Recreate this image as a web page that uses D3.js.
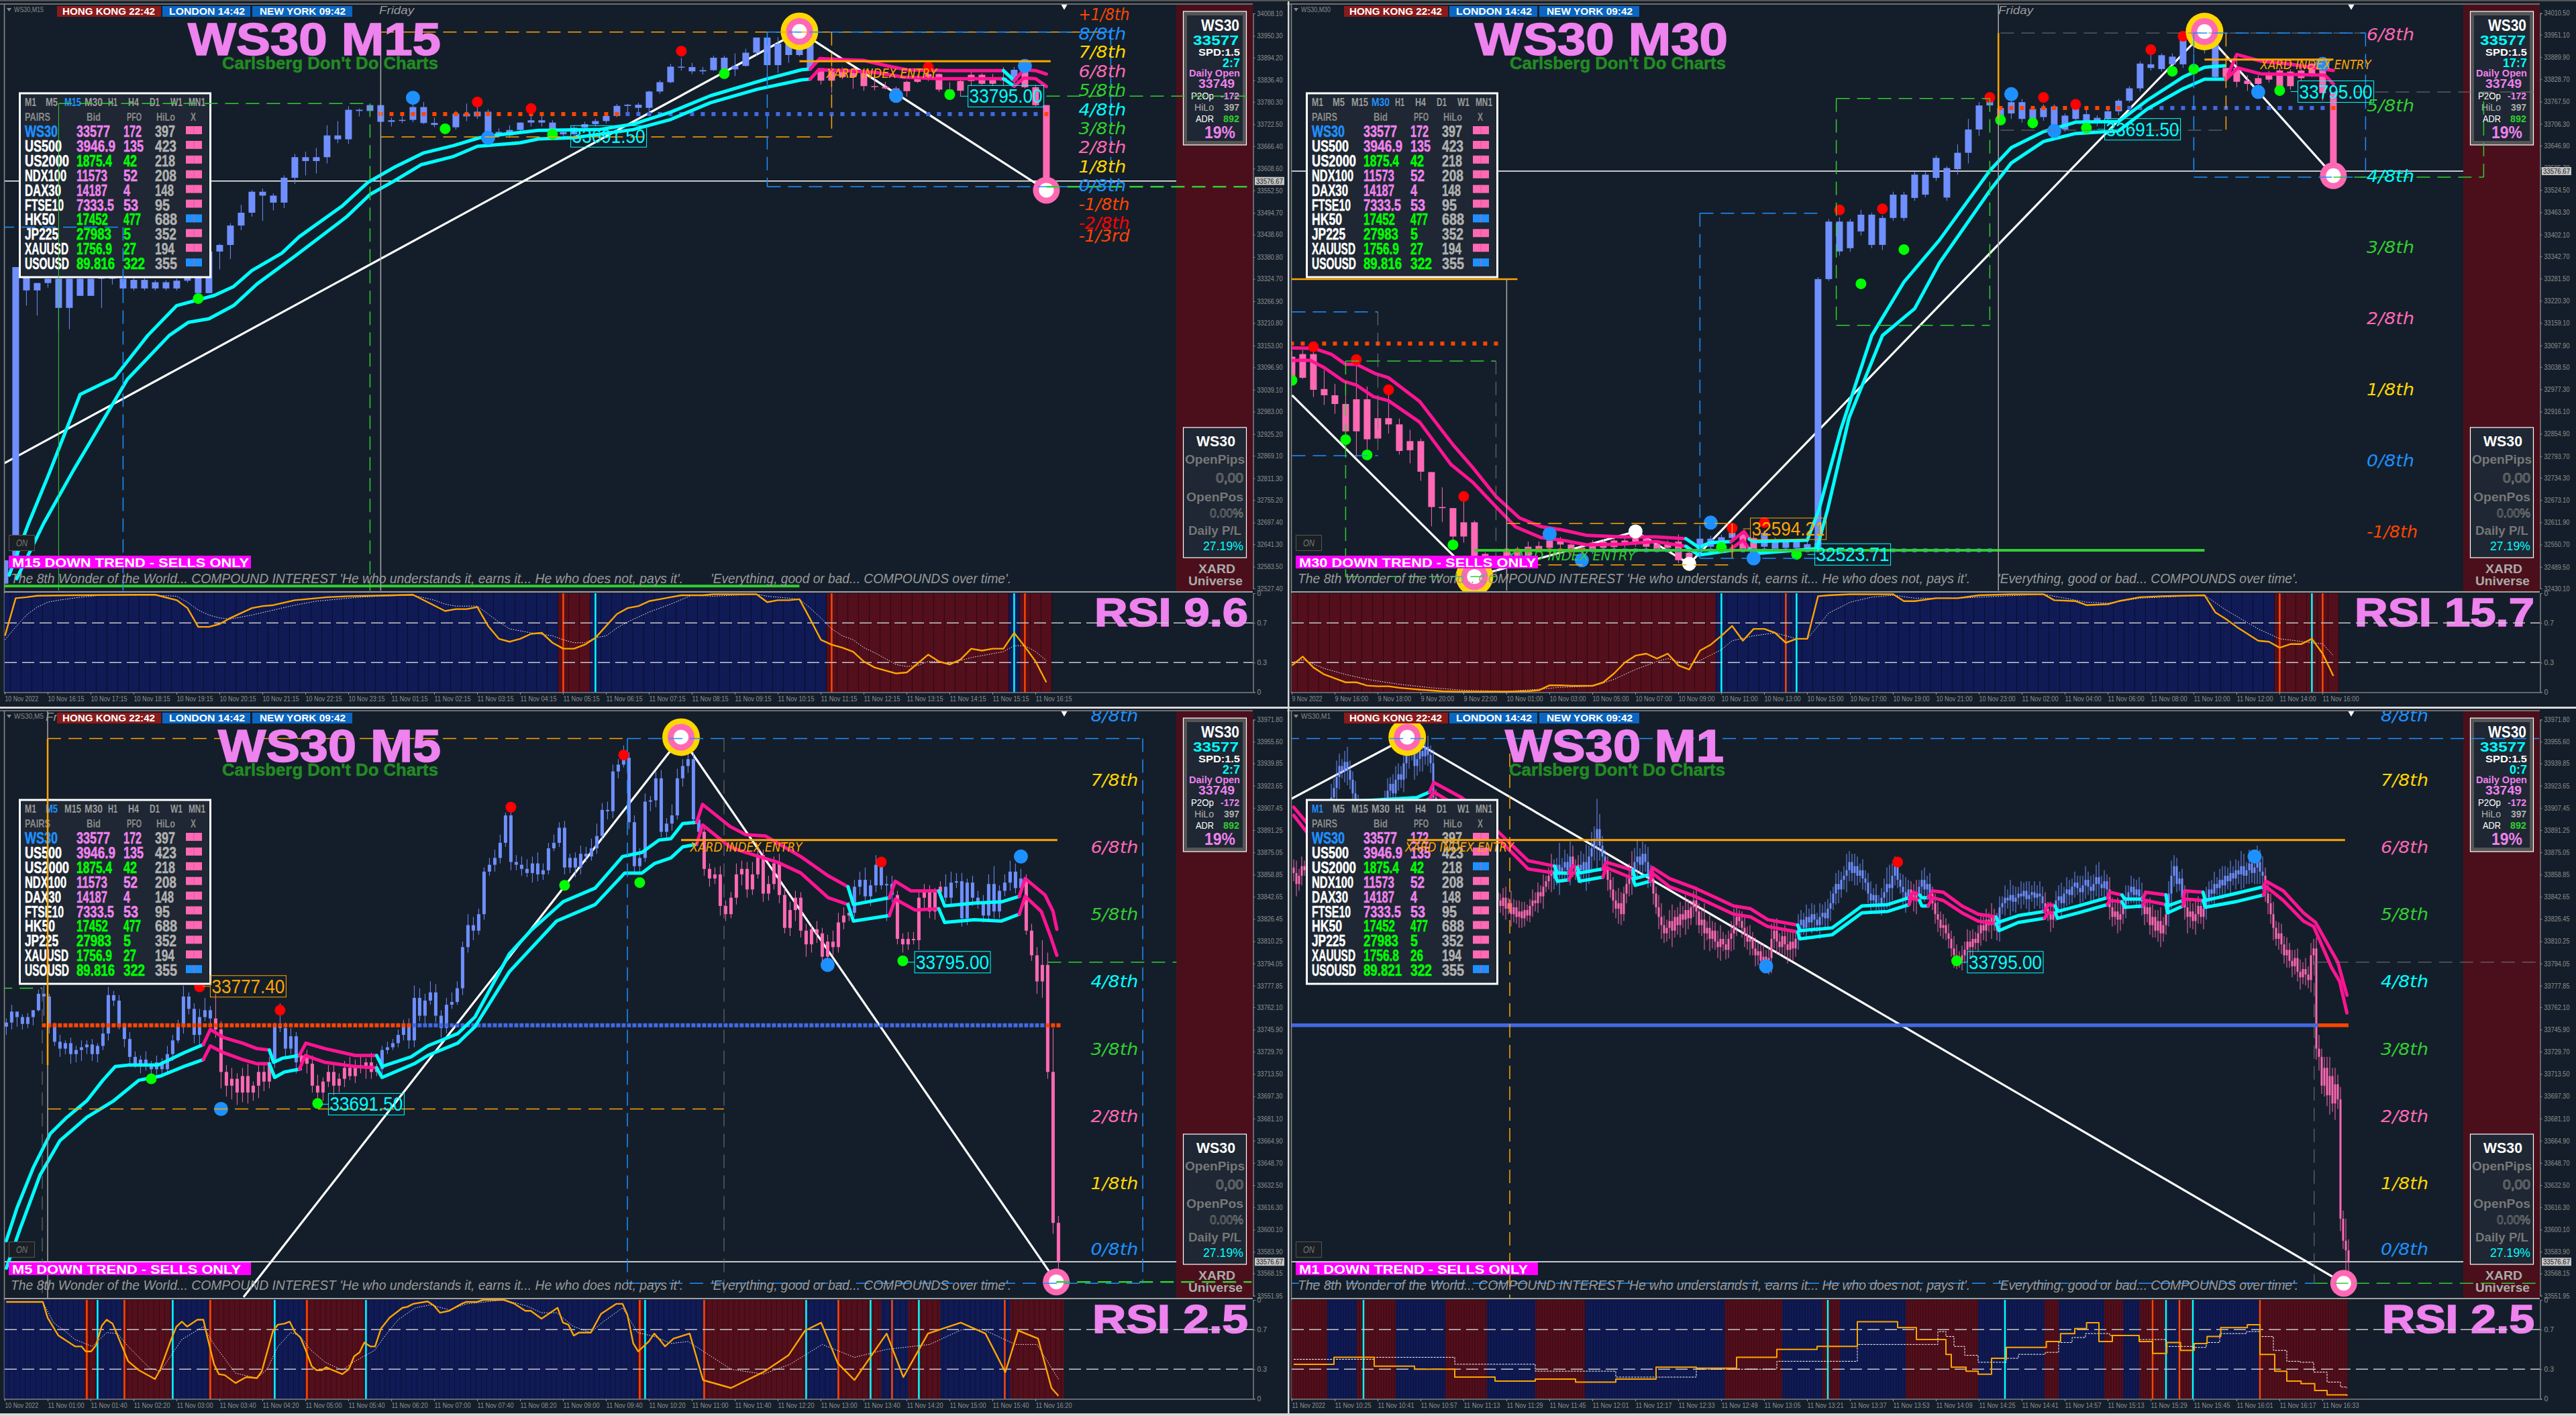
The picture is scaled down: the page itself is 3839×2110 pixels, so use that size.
<!DOCTYPE html>
<html><head><meta charset="utf-8">
<style>html,body{margin:0;padding:0;background:#141e2a}svg{display:block}text{font-family:"Liberation Sans",Arial,sans-serif}</style>
<script src="https://cdn.jsdelivr.net/npm/d3@7/dist/d3.min.js"></script></head><body><script>
// ---------- price axis tick labels
const ticksM15=[34008.10,33950.30,33894.20,33836.40,33780.30,33722.50,33666.40,33608.60,33552.50,33494.70,33438.60,33380.80,33324.70,33266.90,33210.80,33153.00,33096.90,33039.10,32983.00,32925.20,32869.10,32811.30,32755.20,32697.40,32641.30,32583.50,32527.40];
const ticksM30=[34010.50,33951.10,33889.90,33828.70,33767.50,33706.30,33646.90,33585.70,33524.50,33463.30,33402.10,33342.70,33281.50,33220.30,33159.10,33097.90,33038.50,32977.30,32916.10,32854.90,32793.70,32734.30,32673.10,32611.90,32550.70,32489.50,32430.10];
const ticksLow=[33971.80,33955.60,33939.85,33923.65,33907.45,33891.25,33875.05,33858.85,33842.65,33826.45,33810.25,33794.05,33777.85,33762.10,33745.90,33729.70,33713.50,33697.30,33681.10,33664.90,33648.70,33632.50,33616.30,33600.10,33583.90,33568.15,33551.95];
// ---------- time axis labels
const timeM15=["10 Nov 2022","10 Nov 16:15","10 Nov 17:15","10 Nov 18:15","10 Nov 19:15","10 Nov 20:15","10 Nov 21:15","10 Nov 22:15","10 Nov 23:15","11 Nov 01:15","11 Nov 02:15","11 Nov 03:15","11 Nov 04:15","11 Nov 05:15","11 Nov 06:15","11 Nov 07:15","11 Nov 08:15","11 Nov 09:15","11 Nov 10:15","11 Nov 11:15","11 Nov 12:15","11 Nov 13:15","11 Nov 14:15","11 Nov 15:15","11 Nov 16:15"];
const timeM30=["9 Nov 2022","9 Nov 16:00","9 Nov 18:00","9 Nov 20:00","9 Nov 22:00","10 Nov 01:00","10 Nov 03:00","10 Nov 05:00","10 Nov 07:00","10 Nov 09:00","10 Nov 11:00","10 Nov 13:00","10 Nov 15:00","10 Nov 17:00","10 Nov 19:00","10 Nov 21:00","10 Nov 23:00","11 Nov 02:00","11 Nov 04:00","11 Nov 06:00","11 Nov 08:00","11 Nov 10:00","11 Nov 12:00","11 Nov 14:00","11 Nov 16:00"];
const timeM5=["10 Nov 2022","11 Nov 01:00","11 Nov 01:40","11 Nov 02:20","11 Nov 03:00","11 Nov 03:40","11 Nov 04:20","11 Nov 05:00","11 Nov 05:40","11 Nov 06:20","11 Nov 07:00","11 Nov 07:40","11 Nov 08:20","11 Nov 09:00","11 Nov 09:40","11 Nov 10:20","11 Nov 11:00","11 Nov 11:40","11 Nov 12:20","11 Nov 13:00","11 Nov 13:40","11 Nov 14:20","11 Nov 15:00","11 Nov 15:40","11 Nov 16:20"];
const timeM1=["11 Nov 2022","11 Nov 10:25","11 Nov 10:41","11 Nov 10:57","11 Nov 11:13","11 Nov 11:29","11 Nov 11:45","11 Nov 12:01","11 Nov 12:17","11 Nov 12:33","11 Nov 12:49","11 Nov 13:05","11 Nov 13:21","11 Nov 13:37","11 Nov 13:53","11 Nov 14:09","11 Nov 14:25","11 Nov 14:41","11 Nov 14:57","11 Nov 15:13","11 Nov 15:29","11 Nov 15:45","11 Nov 16:01","11 Nov 16:17","11 Nov 16:33"];
// ---------- candles: M15 (close / wicks, points above 32000)
const m15Close=[600,1355,1295,1314,1325,1250,1325,1281,1325,1328,1325,1300,1322,1300,1316,1300,1320,1328,1288,1395,1412,1462,1495,1549,1539,1521,1585,1638,1628,1638,1694,1684,1760,1757,1772,1729,1733,1734,1767,1726,1721,1715,1750,1743,1755,1703,1694,1708,1727,1733,1727,1703,1697,1714,1723,1731,1744,1770,1773,1765,1807,1831,1871,1870,1859,1862,1894,1864,1873,1907,1946,1875,1930,1901,1945,1867,1835,1864,1844,1855,1821,1819,1815,1808,1832,1844,1852,1812,1809,1834,1850,1827,1842,1835,1863,1818,1772,1564];
const m15WickUp=[0,0,0,0,0,0,0,0,0,0,0,5,5,5,5,5,5,5,0,0,3,6,20,4,8,6,6,8,14,24,26,37,9,3,0,1,7,9,16,13,14,3,7,26,23,6,9,12,1,27,13,6,6,6,6,6,6,5,2,5,2,5,7,23,11,8,5,5,32,10,0,0,17,14,12,1,0,6,5,12,10,24,13,5,3,6,6,2,19,10,8,4,10,28,7,23,6,0];
const m15WickDn=[0,0,39,65,12,60,55,0,0,75,15,5,5,5,5,5,5,5,0,0,46,36,12,10,65,20,14,16,37,32,16,10,12,14,6,12,12,7,6,3,6,15,6,12,6,15,6,6,6,10,10,12,6,6,6,6,6,3,23,16,19,6,3,9,7,8,2,6,17,2,9,25,20,20,3,3,10,32,5,30,12,9,3,18,14,3,10,6,20,15,13,3,6,14,9,3,3,0];
const m15Open0=540;
// ---------- candles: M30 (body top / bottom, high / low, points above 32000)
const m30Top=[1067,1074,1074,978,961,937,950,950,898,898,881,835,835,750,654,651,612,612,525,520,538,538,545,547,562,560,551,542,556,559,562,562,569,567,552,556,559,528,567,567,571,583,579,569,583,562,559,559,552,1280,1438,1438,1438,1457,1457,1448,1512,1512,1567,1567,1613,1585,1627,1691,1757,1770,1750,1766,1766,1747,1750,1754,1729,1750,1733,1723,1741,1770,1804,1872,1870,1895,1891,1944,1944,1941,1941,1860,1860,1825,1832,1847,1853,1850,1853,1872,1872,1791];
const m30Bot=[1012,1009,976,961,937,862,862,840,842,881,808,810,751,654,651,573,573,511,494,500,518,518,518,539,542,551,532,532,532,542,544,549,552,545,539,542,508,508,539,545,549,569,539,525,545,539,542,542,539,539,1280,1356,1365,1411,1374,1374,1448,1448,1503,1512,1558,1504,1582,1627,1691,1757,1716,1735,1720,1720,1725,1691,1691,1720,1710,1708,1720,1741,1770,1804,1860,1857,1870,1870,1928,1928,1835,1835,1822,1816,1816,1828,1807,1810,1832,1841,1791,1560];
const m30High=[1084,1085,1084,1030,992,989,1057,985,961,972,897,866,842,750,708,651,675,617,530,525,550,545,559,559,575,572,555,548,563,565,568,568,575,572,560,562,579,535,586,575,578,590,585,580,590,570,565,565,560,1285,1445,1450,1445,1470,1462,1455,1520,1520,1575,1575,1620,1590,1650,1720,1766,1785,1754,1780,1775,1755,1760,1760,1735,1760,1745,1730,1750,1775,1810,1878,1907,1900,1900,1950,1960,1955,1945,1885,1885,1840,1840,1852,1860,1856,1865,1880,1880,1791];
const m30Low=[1009,1006,956,934,910,845,791,791,835,856,798,774,726,601,613,552,556,480,488,495,510,510,510,530,535,540,520,525,525,535,538,542,545,538,530,535,500,484,530,538,540,560,530,515,535,530,535,535,530,535,1275,1345,1355,1400,1365,1360,1440,1440,1495,1505,1550,1495,1567,1598,1673,1741,1704,1720,1710,1698,1715,1685,1685,1716,1700,1700,1710,1730,1765,1795,1853,1850,1853,1860,1900,1900,1830,1820,1807,1797,1791,1820,1790,1800,1825,1835,1770,1552];
// ---------- candles: M5 (close / wicks, points above 33500)
const m5Close=[251,259,255,250,255,260,272,270,248,237,232,236,228,231,233,235,228,234,243,271,267,249,239,226,221,224,221,217,222,217,228,238,248,270,261,242,255,260,254,246,215,205,210,200,212,200,205,215,208,222,248,247,232,241,222,227,221,205,200,208,215,205,210,218,212,220,218,222,215,217,231,233,236,242,248,238,269,256,267,273,256,247,264,266,276,306,322,318,330,361,366,371,382,402,368,366,363,360,367,359,362,378,382,393,364,371,364,374,372,378,387,406,405,434,439,444,397,365,371,412,413,429,390,396,402,429,438,443,399,390,363,356,359,336,330,342,359,363,348,359,373,345,352,367,344,320,333,342,318,308,319,316,299,310,306,324,329,331,350,355,343,351,366,351,352,344,312,308,312,311,342,346,332,346,350,342,353,354,327,353,342,338,329,352,332,347,353,361,349,356,318,300,281,293,215,105,77];
const m5WickUp=[3,5,0,2,3,0,3,6,2,3,5,2,4,3,5,3,4,2,8,6,3,4,2,5,4,3,6,2,5,3,6,4,5,8,3,4,6,9,3,18,6,5,8,4,6,9,3,7,5,4,3,17,4,6,3,5,4,6,8,3,5,7,4,5,8,4,6,3,7,4,3,4,3,4,5,6,9,7,5,8,6,4,5,7,5,4,8,6,4,3,5,6,6,2,4,5,6,7,5,8,5,4,6,4,5,3,4,6,5,7,9,5,6,5,4,9,4,5,7,6,3,5,6,4,8,7,5,6,5,3,3,4,5,6,4,4,8,6,5,9,5,4,6,5,7,5,6,5,4,5,3,6,4,5,8,7,6,8,5,6,9,4,7,5,6,6,3,4,5,5,4,6,5,3,4,9,8,6,6,3,5,5,6,7,13,4,6,8,6,7,3,5,6,18,9,32,5];
const m5WickDn=[6,5,7,4,3,6,1,14,5,3,6,4,7,6,8,5,5,6,3,5,4,3,6,5,3,7,5,9,4,6,3,5,2,5,4,6,8,3,4,6,12,8,10,9,7,8,6,9,7,5,4,3,6,4,8,6,7,5,9,6,4,7,5,6,3,5,4,8,5,3,4,3,2,3,4,6,5,4,6,3,5,7,4,3,2,5,4,7,3,4,3,5,4,3,6,4,5,3,7,5,4,3,2,3,5,4,7,5,4,3,4,3,6,5,5,2,5,6,4,3,7,5,4,4,5,3,6,5,4,3,5,6,4,7,5,3,5,8,6,4,3,6,5,4,6,4,6,8,5,9,6,7,5,3,6,4,5,4,3,6,4,7,5,3,26,5,4,6,4,3,7,8,5,6,4,3,5,4,6,5,6,4,5,3,5,5,4,6,4,5,3,4,9,12,5,8,17];
const m5Open0=248;
// ---------- candles: M1 (close / wick, points above 33500)
const m1Close=[360,352,358,365,362,370,378,372,381,388,385,392,398,405,415,422,430,438,434,441,435,428,418,412,405,398,392,400,395,388,396,404,398,408,414,420,425,418,428,432,428,440,448,455,450,438,443,449,445,452,446,440,415,405,398,402,390,385,392,380,376,384,372,368,374,362,366,358,352,358,348,353,345,350,342,346,340,336,342,334,338,330,335,328,332,327,333,329,336,340,338,346,343,350,354,358,362,356,366,360,364,368,362,372,365,360,366,362,368,360,372,378,385,392,380,372,364,355,348,340,334,338,330,345,352,358,362,368,372,366,374,368,360,356,345,335,328,322,316,320,325,318,328,322,330,326,333,327,335,340,332,322,326,316,320,312,318,310,306,312,308,304,312,316,322,328,325,320,315,310,312,305,300,303,296,299,294,298,312,318,310,306,314,308,304,310,305,312,322,326,320,328,324,330,326,322,328,331,327,334,338,345,352,348,355,358,362,368,360,365,358,362,356,353,345,340,344,338,336,342,346,352,349,358,365,355,350,346,342,348,344,340,345,350,355,348,352,345,338,330,326,320,322,316,312,305,300,298,296,300,304,310,306,312,309,316,322,318,326,322,328,324,318,335,338,342,340,344,339,342,345,343,347,341,344,346,342,345,343,338,334,330,326,332,340,343,338,345,348,344,350,353,349,346,351,355,350,347,352,357,352,349,354,348,335,328,332,326,330,336,342,346,350,344,348,343,339,330,335,322,328,318,325,316,322,330,345,358,365,352,356,342,335,328,332,325,330,336,328,334,342,348,345,352,349,355,351,358,354,360,356,362,359,365,358,362,367,360,364,368,361,358,345,338,330,320,312,316,308,300,304,296,292,298,288,284,290,286,282,300,305,232,226,205,218,198,212,192,206,195,108,92,85,77];
const m1Wick=[6,9,5,7,4,8,6,10,5,7,9,4,6,8,10,7,12,9,5,8,11,7,6,9,5,8,6,7,4,9,6,5,8,7,6,9,5,7,10,8,6,9,11,12,8,10,7,9,11,6,8,7,10,6,8,5,7,9,6,8,5,7,6,9,4,8,6,7,5,9,6,4,8,5,7,6,9,5,7,8,4,9,6,5,8,7,6,4,5,8,6,7,5,9,4,6,12,8,5,16,7,9,6,11,8,5,7,10,6,13,8,12,9,22,11,7,5,8,6,9,7,11,8,5,7,9,14,10,12,6,9,7,11,6,8,5,9,10,7,6,8,12,5,7,9,6,11,8,5,7,10,6,8,12,5,9,7,6,8,10,5,7,6,9,12,8,5,7,9,6,10,5,8,7,6,9,5,8,11,7,9,6,5,8,10,7,9,6,8,7,5,9,6,8,7,5,10,6,8,7,9,5,8,10,6,7,12,8,6,9,7,5,8,6,7,9,5,8,6,7,10,12,14,9,7,6,5,9,11,7,6,8,10,5,7,9,6,8,5,7,9,6,8,5,7,6,9,8,5,7,6,9,8,7,5,6,9,7,8,5,10,6,7,8,5,9,6,11,7,8,5,9,6,7,10,5,8,6,9,7,8,5,9,6,7,8,10,5,9,7,6,8,5,9,7,10,6,8,7,9,11,6,8,5,9,7,6,10,8,7,9,5,8,6,7,9,10,8,6,7,9,5,8,10,6,7,9,11,8,6,5,7,9,12,8,6,10,7,5,9,8,6,7,9,5,8,10,7,6,9,5,8,7,11,9,6,10,7,8,12,9,11,6,8,7,9,5,8,7,6,9,5,8,6,7,9,5,8,6,9,7,8,10,6,8,8,14,6,12,7,9,6,16,8,5,5,12,14];
const m1Open0=364;
// ---------- moving-average ribbons: [bar, price]
const m15Ribbon=[
 {c:'c',up:[[.4,32562],[2.2,32695],[4,32816],[7,33027],[10.2,33070],[13.3,33179],[16,33256],[19.5,33282],[21.3,33305],[23,33346],[25.8,33391],[27.4,33433],[31.4,33512],[33.8,33573],[36.2,33611],[39,33649],[41.8,33668],[44.2,33688],[46.5,33697],[49.7,33707],[55.3,33709],[58.5,33723],[62,33754],[65.7,33796],[70.9,33839],[74.2,33863],[75,33865]],
  lo:[[1.1,32553],[3.6,32695],[6.4,32833],[11.4,33066],[15.3,33179],[17.1,33213],[19,33222],[21.3,33256],[23.5,33312],[27,33383],[31.8,33484],[34,33542],[36.2,33576],[38.8,33619],[41.8,33640],[44,33666],[48,33675],[49.7,33685],[53,33688],[58.5,33709],[62,33735],[65.7,33778],[70.1,33813],[74.2,33837],[75,33839]]},
 {c:'p',up:[[75,33865],[75.9,33892],[78.2,33889],[80,33887],[82.2,33873],[84,33863],[87.7,33861],[93,33861]],lo:[[75,33839],[75.8,33863],[78.2,33861],[81.1,33856],[83.7,33844],[87,33840],[93,33840]]},
 {c:'c',up:[[93,33861],[94,33835]],lo:[[93,33840],[94,33821]]},
 {c:'p',up:[[94,33835],[94.9,33863],[96,33861],[97,33852]],lo:[[94,33821],[94.9,33842],[96,33840],[97,33820]]}];
const m30Ribbon=[
 {c:'p',up:[[0,33091],[2,33090],[3.7,33073],[5,33046],[6,33046],[7.8,33020],[9,33009],[11.9,32944],[15,32825],[16.8,32764],[19,32683],[21.2,32624],[23.2,32600],[25.2,32591],[27.5,32576],[30.7,32572],[33.9,32572],[36.7,32567]],
  lo:[[0,33057],[1.7,33057],[3,33037],[4.8,33000],[6,32989],[7.6,32957],[9,32946],[11.9,32887],[14.8,32771],[16.8,32723],[18.8,32661],[20.8,32600],[23.2,32570],[25.2,32563],[27.5,32550],[30.7,32552],[33.9,32559],[36.7,32546]]},
 {c:'c',up:[[36.7,32567],[37.9,32543],[38.9,32556],[40.9,32559]],lo:[[36.7,32546],[37.9,32522],[40.9,32535]]},
 {c:'p',up:[[40.9,32559],[42.1,32587],[42.6,32566]],lo:[[40.9,32539],[42,32563],[42.6,32539]]},
 {c:'c',up:[[42.6,32566],[43,32559],[48,32563],[49.1,32648],[51.1,32865],[54,33125],[57,33272],[60.3,33387],[65,33578],[67,33641],[70,33685],[73,33711],[77,33713],[79.7,33772],[83,33835],[85,33862],[86.9,33866]],
  lo:[[42.6,32539],[43.1,32526],[48.9,32540],[49.9,32648],[51.9,32900],[55,33125],[58,33199],[60.3,33324],[65,33523],[67,33599],[70,33658],[73,33680],[77,33687],[79.7,33748],[83,33803],[85,33829],[87,33829]]},
 {c:'p',up:[[87,33829],[88,33897],[90.2,33879],[92.8,33871],[97,33853]],lo:[[87,33829],[88.1,33860],[90.2,33844],[96.2,33840],[97,33816]]}];
const m5Ribbon=[
 {c:'c',up:[[0,92],[2,116],[5,145],[8.2,170],[11.3,182],[15,194],[18,209],[20.3,219],[22.7,220],[28.3,220],[33.1,229],[36.7,235]],lo:[[0,72],[2.6,101],[6.3,140],[10,165],[15,182],[20,194],[24.7,209],[28.7,212],[33.1,219],[36.7,224]]},
 {c:'p',up:[[36.7,235],[38,246],[40.5,240],[44,236],[46.7,232],[49,231]],lo:[[36.7,224],[38,234],[40.5,229],[44,224],[46.7,221],[49,221]]},
 {c:'c',up:[[49,231],[49.8,222],[51.4,225],[54.6,227]],lo:[[49,221],[50,211],[51.8,215],[54.6,217]]},
 {c:'p',up:[[54.6,227],[55.8,236],[59.4,232],[65,227],[69,227]],lo:[[54.6,217],[55.7,227],[59.4,222],[65,219],[69,218]]},
 {c:'c',up:[[69,227],[70,219],[75.4,226],[78.5,234],[84.1,243],[87.3,255],[93.7,301],[97.7,318],[103.7,339],[109.7,349],[114.8,372],[118.4,375],[121.6,384],[123.8,385],[126,396],[128.6,397]],lo:[[69,218],[70,211],[76,221],[78.5,227],[84.1,236],[87.3,248],[93.7,288],[102.5,325],[109.7,337],[115.2,360],[118.4,360],[120.8,367],[123.8,371],[126,379],[128.6,381]]},
 {c:'p',up:[[128.6,397],[129.7,410],[134.8,394],[137.7,388],[141.4,387],[148,372],[153.1,358],[156.8,350]],lo:[[128.6,381],[129.7,395],[134.8,379],[137.7,375],[143.6,368],[148,360],[153.1,342],[156.8,337]]},
 {c:'c',up:[[156.8,350],[157.8,337],[164.5,342]],lo:[[156.8,337],[157.8,325],[164.5,329]]},
 {c:'p',up:[[164.5,342],[165.6,354],[168.5,347],[173.7,347]],lo:[[164.5,329],[165.6,341],[169.3,333],[173.7,334]]},
 {c:'c',up:[[173.7,347],[174.8,336],[180.3,338],[185.4,339],[188.7,343]],lo:[[173.7,334],[174.8,324],[180.3,326],[185.4,325],[188.7,330]]},
 {c:'p',up:[[188.7,343],[189.8,356],[193.5,344],[195,332],[195.7,319]],lo:[[188.7,330],[189.8,343],[192.8,332],[194.6,313],[195.7,300]]}];
const m1Ribbon=[
 {c:'p',up:[[0,408],[6,394]],lo:[[0,402],[6,387]]},
 {c:'c',up:[[6,394],[20,412],[45.8,415],[50.6,419]],lo:[[6,387],[20,405],[45.8,409],[50.6,414]]},
 {c:'p',up:[[50.6,419],[52.2,426],[62.6,415],[76.2,390],[87.3,369],[97.2,365]],lo:[[50.6,414],[52.2,419],[62.6,407],[76.2,385],[87.3,363],[97.2,360]]},
 {c:'c',up:[[97.2,365],[98.2,360],[102.5,360]],lo:[[97.2,360],[98.2,354],[102.5,355]]},
 {c:'p',up:[[102.5,360],[104,365],[105.7,364]],lo:[[102.5,355],[103.7,360],[105.7,360]]},
 {c:'c',up:[[105.7,364],[106.4,360],[115.2,363]],lo:[[105.7,360],[106.4,354],[115.2,357]]},
 {c:'p',up:[[115.2,363],[116.4,368],[126.4,362]],lo:[[115.2,357],[116.4,364],[126.4,356]]},
 {c:'c',up:[[126.4,362],[127.2,356],[132.8,359]],lo:[[126.4,356],[127.2,351],[132.8,354]]},
 {c:'p',up:[[132.8,359],[133.6,364],[140,356],[149.5,349],[163.9,336],[170.2,334],[176.6,326],[187.8,322]],lo:[[132.8,354],[133.6,360],[140,350],[149.5,343],[163.9,330],[170.2,328],[176.6,321],[187.8,317]]},
 {c:'c',up:[[187.8,322],[188.6,318],[200.6,320],[211.7,336],[221.3,337],[229.3,342]],lo:[[187.8,317],[188.6,312],[200.6,315],[211.7,331],[221.3,332],[229.3,337]]},
 {c:'p',up:[[229.3,342],[230.9,346],[233.2,344]],lo:[[229.3,337],[230,342],[233.2,340]]},
 {c:'c',up:[[233.2,344],[234,342],[236.4,342]],lo:[[233.2,340],[234,336],[236.4,336]]},
 {c:'p',up:[[236.4,342],[238,347],[242,346],[249,336],[255,330],[261.7,328]],lo:[[236.4,336],[238,342],[242,340],[249,331],[255,325],[261.7,323]]},
 {c:'c',up:[[261.7,328],[262.5,324],[270,329],[279.7,332]],lo:[[261.7,323],[262.8,318],[270,324],[279.7,327]]},
 {c:'p',up:[[279.7,332],[281.2,337],[283.7,336]],lo:[[279.7,327],[281.2,331],[283.7,331]]},
 {c:'c',up:[[283.7,336],[284.6,332],[292.4,336],[303.2,342]],lo:[[283.7,331],[284.6,327],[292.4,331],[303.2,337]]},
 {c:'p',up:[[303.2,342],[304,346],[308.6,344]],lo:[[303.2,337],[304,340],[308.6,339]]},
 {c:'c',up:[[308.6,344],[309.6,341],[316.4,341]],lo:[[308.6,339],[309.6,335],[316.4,336]]},
 {c:'p',up:[[316.4,341],[317.4,346],[325,344]],lo:[[316.4,336],[317.4,340],[325,337]]},
 {c:'c',up:[[325,344],[325.6,336],[331.3,340]],lo:[[325,337],[325.6,331],[331.3,336]]},
 {c:'p',up:[[331.3,340],[332,347],[338.8,346]],lo:[[331.3,336],[332,341],[338.8,340]]},
 {c:'c',up:[[338.8,346],[339.6,340],[350.8,345],[361.3,350]],lo:[[338.8,340],[339.6,335],[350.8,339],[361.3,344]]},
 {c:'p',up:[[361.3,350],[362.3,354],[368.7,347],[376.2,331],[380.7,324],[389,295],[392.4,271]],lo:[[361.3,344],[362.3,350],[368.7,340],[376.2,325],[380,321],[386.7,291],[389.7,281],[392.4,258]]}];
// ---------- RSI lines: [bar, value]
const m15Rsi=[[0,.57],[1,.95],[2,.96],[3,.975],[6,.98],[12,.985],[14,.985],[16,.93],[17,.85],[18,.66],[19,.66],[20,.69],[21,.75],[23,.85],[24,.87],[25,.88],[27,.93],[28,.94],[30,.96],[32,.97],[36,.98],[38,.985],[41,.82],[42,.84],[43,.84],[44,.86],[45,.67],[46,.54],[47,.51],[48,.54],[49,.59],[50,.6],[51,.5],[52,.44],[53,.44],[54,.48],[55,.55],[56,.67],[57,.79],[58,.85],[59,.87],[60,.92],[61,.94],[62,.96],[63,.98],[65,.98],[66,.99],[70,.99],[71,.91],[72,.93],[73,.93],[74,.94],[75,.74],[76,.53],[77,.48],[78,.45],[79,.41],[80,.31],[81,.25],[82,.22],[83,.19],[84,.2],[85,.29],[86,.38],[87,.31],[88,.28],[89,.33],[90,.44],[91,.42],[92,.44],[93,.44],[94,.6],[95,.46],[96,.31],[97,.1]];
const m15Sig=[[0,.53],[1,.66],[2,.78],[3,.86],[4,.91],[5,.93],[7,.96],[9,.98],[12,.98],[14,.98],[16,.97],[17,.91],[18,.83],[19,.78],[20,.75],[21,.74],[23,.78],[25,.83],[27,.88],[29,.92],[31,.94],[33,.96],[35,.97],[38,.98],[40,.93],[41,.89],[42,.87],[44,.87],[45,.79],[46,.71],[47,.64],[49,.6],[51,.57],[52,.53],[53,.5],[54,.5],[55,.55],[56,.57],[57,.65],[58,.71],[60,.81],[62,.89],[64,.98],[66,.97],[70,.99],[71,.97],[74,.94],[75,.85],[76,.75],[77,.64],[78,.57],[79,.53],[80,.45],[81,.4],[82,.34],[83,.28],[84,.26],[85,.27],[86,.31],[87,.31],[88,.29],[89,.32],[90,.35],[92,.39],[93,.41],[94,.47],[95,.47],[96,.41],[97,.32]];
const m30Rsi=[[0,.27],[1,.36],[2,.25],[3,.18],[4,.14],[5,.1],[6,.1],[7,.067],[8,.06],[9,.06],[10,.045],[11,.035],[12,.025],[14,.01],[16,.005],[20,.005],[22,.01],[23,.02],[24,.07],[25,.07],[26,.065],[28,.065],[29,.1],[30,.19],[31,.3],[32,.37],[33,.39],[34,.34],[35,.39],[36,.27],[37,.23],[38,.42],[39,.48],[40,.57],[41,.67],[42,.52],[43,.64],[44,.64],[45,.6],[46,.5],[47,.54],[48,.54],[49,.97],[50,.98],[52,.99],[56,.99],[57,.92],[58,.92],[60,.95],[62,.95],[64,.98],[67,.99],[70,.99],[71,.93],[73,.92],[74,.88],[76,.89],[77,.92],[79,.96],[81,.97],[85,.98],[86,.807],[87,.739],[88,.66],[90,.52],[91,.51],[92,.45],[93,.486],[94,.486],[95,.54],[96,.39],[97,.165]];
const m30Sig=[[0,.3],[1,.33],[3,.24],[5,.18],[7,.13],[10,.08],[13,.045],[16,.02],[20,.01],[23,.03],[25,.05],[28,.06],[30,.13],[32,.23],[34,.31],[35,.34],[37,.28],[38,.32],[40,.43],[41,.52],[43,.57],[45,.6],[47,.54],[48,.54],[49,.67],[50,.8],[52,.91],[54,.96],[56,.98],[58,.95],[62,.95],[70,.99],[74,.91],[76,.9],[79,.95],[81,.96],[85,.98],[87,.83],[90,.64],[92,.54],[95,.5],[96,.49],[97,.37]];
const m5Rsi=[[0,.98],[6.8,.98],[7.7,.82],[9.7,.64],[12.8,.53],[14,.53],[14.8,.48],[15.8,.48],[16.7,.54],[17.8,.74],[18.7,.8],[19.8,.76],[21.8,.5],[22.7,.38],[24.7,.29],[27.7,.2],[28.7,.3],[30.7,.6],[31.7,.73],[32.7,.78],[33.7,.73],[35.6,.8],[36.7,.8],[37.7,.57],[38.7,.35],[39.6,.25],[40.7,.24],[42.7,.16],[44.7,.22],[46.7,.21],[47.6,.28],[49.7,.69],[50.6,.75],[51.8,.76],[52.8,.78],[53.8,.67],[54.8,.62],[55.8,.49],[56.9,.33],[57.8,.29],[58.8,.29],[59.6,.32],[60.8,.29],[62.6,.25],[63.8,.3],[64.8,.43],[65.8,.47],[66.7,.57],[67.8,.53],[68.7,.53],[69.8,.71],[71.4,.82],[73.8,.92],[74.7,.93],[75.8,.96],[78.5,.985],[79.7,.94],[80.8,.87],[82.5,.89],[84.8,.96],[85.7,.98],[87.7,.98],[88.8,1],[92.7,1],[94.7,.96],[96.7,.89],[97.7,.89],[99.7,.81],[102.7,.92],[103.7,.77],[104.7,.75],[105.7,.64],[106.7,.67],[108.9,.67],[110.8,.86],[113.6,.96],[114.8,.96],[115.7,.85],[116.8,.56],[117.7,.48],[118.7,.53],[119.7,.58],[120.7,.66],[121.7,.6],[122.7,.53],[124.3,.61],[127.3,.66],[129.8,.19],[135,.11],[141,.27],[145.7,.44],[148.8,.69],[151.8,.77],[154.9,.36],[158,.19],[164,.66],[167.1,.22],[171.7,.66],[177.8,.77],[182.4,.66],[186.1,.27],[188.5,.69],[192.2,.61],[194.7,.11],[196,.03]];
const m5Sig=[[0,.98],[6.8,.98],[8.8,.77],[10.8,.69],[12.8,.6],[16,.53],[18.7,.67],[20.7,.66],[22.7,.53],[26.7,.31],[28.7,.28],[30.7,.44],[32.7,.6],[36.7,.73],[38.7,.55],[42.7,.26],[46.7,.21],[48.6,.3],[50.6,.53],[53,.67],[54.6,.64],[56.6,.5],[59.4,.37],[62.6,.29],[64.6,.37],[68.6,.49],[70.6,.64],[73,.8],[76.2,.92],[79,.95],[82.5,.9],[85.7,.96],[92.7,1],[96.9,.94],[99.7,.87],[102.5,.87],[105.7,.73],[108.9,.67],[111.2,.78],[114.8,.92],[117.6,.67],[120.8,.63],[123.8,.56],[127,.58],[135,.3],[141,.25],[146,.35],[152,.55],[158,.42],[164,.5],[172,.55],[178,.7],[182,.7],[188,.55],[192,.55],[196,.2]];
const m1Rsi=[[0,.35],[15,.42],[30,.33],[45,.3],[60,.22],[75,.18],[90,.2],[105,.17],[120,.2],[135,.32],[150,.31],[165,.42],[180,.5],[195,.53],[210,.78],[225,.72],[232,.6],[243,.45],[245,.32],[250.5,.28],[255,.25],[260,.41],[265.5,.52],[280.4,.58],[285.7,.66],[291,.71],[295.4,.77],[300,.58],[305,.64],[315,.58],[320,.46],[325.3,.57],[330.4,.49],[335.5,.56],[340.3,.63],[345.4,.72],[355.3,.75],[360,.45],[365.5,.28],[370,.18],[375.3,.155],[380.4,.085],[385,.04],[392.4,.03]];
const m1Sig=[[0,.4],[30,.42],[60,.35],[90,.28],[120,.22],[150,.3],[180,.38],[210,.55],[240,.68],[243,.63],[246,.53],[250,.44],[255,.37],[265.5,.41],[270,.45],[280,.47],[285,.57],[290,.62],[295,.66],[304,.64],[315,.6],[325,.53],[335,.52],[340,.57],[345,.66],[355,.68],[360,.63],[365,.49],[370,.38],[375,.37],[380,.27],[385,.17],[390,.12],[392.4,.11]];
// RSI zones: [first bar, last bar, colour key]
const m15Zones=[[-.4,51.5,'b'],[51.5,54.5,'r'],[54.5,76.5,'b'],[76.5,93.5,'r'],[93.5,94.5,'b'],[94.5,97.5,'r']];
const m30Zones=[[-.4,39.5,'r'],[39.5,91.5,'b'],[91.5,97.5,'r']];
const m5Zones=[[-.4,14.5,'b'],[14.5,16.7,'r'],[16.7,21.8,'b'],[21.8,30.7,'r'],[30.7,37.7,'b'],[37.7,49.7,'r'],[49.7,55.7,'b'],[55.7,66.7,'r'],[66.7,117.6,'b'],[117.6,118.7,'r'],[118.7,130,'b'],[130,149,'r'],[149,155,'b'],[155,163,'r'],[163,168,'b'],[168,174,'r'],[174,187,'b'],[187,197,'r']];
const m1Zones=[[-1,12.5,'r'],[12.5,23.5,'b'],[23.5,38,'r'],[38,56.5,'b'],[56.5,72,'r'],[72,90,'b'],[90,108.6,'r'],[108.6,160.6,'b'],[160.6,182,'r'],[182,197,'b'],[197,203.5,'r'],[203.5,228,'b'],[228,255,'r'],[255,279.7,'b'],[279.7,285,'r'],[285,302,'b'],[302,309,'r'],[309,315,'b'],[315,325,'r'],[325,330,'b'],[330,335,'r'],[335,360,'b'],[360,392.7,'r']];
const m15Cyan=[55,94],m15Orange=[52,77,95];
const m30Cyan=[40,47,95],m30Orange=[46,92,96];
const m5Cyan=[17,31,50,67,119,149,161,170],m5Orange=[15,22,38,56,118,130,155,165,186];
const m1Cyan=[26,199,265,325,335],m1Orange=[320,330,360];
// candle colour: bars drawn pink (down trend)
const m15Pink=[[76,93],[95,97]];
const m30Pink=[[0,37],[42,43],[87,97]];
const m5Pink=[[39,49],[55,69],[130,157],[166,174],[190,196]];
const m1Pink=[[0,8],[53,96],[104,106],[117,126],[134,187],[230,232],[238,262],[280,283],[304,309],[317,325],[332,339],[362,393]];
// zigzag: [bar, price]
const m15Zig=[[-.4,32845],[74,33962],[97,33553]];
const m30Zig=[[0,32961],[17,32463],[32,32587],[37,32498],[85,33960],[97,33564]];
const m5Zig=[[44.2,33551],[125.7,33959],[195.6,33562]];
const m1Zig=[[-1,33914],[42.3,33959],[391.2,33561]];
// markers: [bar, price]
const m15Red=[[44,33780],[49,33763],[63,33911],[86,33870]],m15Blue=[[38,33791],[45,33688],[83,33796],[95,33873]],m15Green=[[41,33711],[51,33697],[18,33274],[67,33853],[88,33799]],m15White=[],m15Gold=[[74,33962]],m15End=[[97,33553]];
const m30Red=[[2,33094],[6,33059],[9,32976],[16,32683],[41,32596],[44,32611],[51,33470],[55,33473],[65,33779],[70,33779],[73,33760],[80,33910],[83,33947]],m30Blue=[[24,32580],[27,32508],[39,32611],[43,32513],[67,33788],[71,33687],[90,33794],[96,33871]],m30Green=[[0,33002],[5,32839],[7,32797],[15,32550],[40,32543],[47,32524],[53,33267],[57,33361],[66,33717],[69,33709],[74,33695],[82,33851],[84,33857],[92,33798]],m30White=[[32,32587],[37,32498]],m30Gold=[[17,32463],[85,33960]],m30End=[[97,33564]];
const m5Red=[[36,33777],[51,33760],[94,33908],[115,33946],[163,33868]],m5Blue=[[40,33688],[153,33793],[189,33872]],m5Green=[[27,33710],[104,33851],[118,33853],[58,33692],[167,33796]],m5White=[],m5Gold=[[125.7,33959]],m5End=[[195.6,33562]];
const m1Red=[[225,33868]],m1Blue=[[176,33792],[358,33872]],m1Green=[[247,33796]],m1White=[],m1Gold=[[42.3,33959]],m1End=[[391.2,33561]];
// level rules: [fromBar, toBar, price, style]
const m15H=[[35,103,33960,'o'],[35,77,33690,'o'],[71,103,33960,'b'],[71,103,33562,'b'],[5,34,33776,'g'],[-.4,11,33458,'b'],[97,116,33795,'g'],[97,116.2,33562,'gw'],[-.4,74,32534,'G'],[74,97.4,33885,'O']];
const m15V=[[35,33960,32522,'s'],[77,33960,33690,'o'],[71,33960,33562,'b'],[103,33960,33562,'b'],[34,33776,32522,'g'],[5,33776,32522,'gt'],[11,33458,32522,'b']];
const m15Dots=[[35,57,'r'],[58,96,'u'],[97,97,'r']],m15DotP=33749;
const m30H=[[-.4,21,33280,'ot'],[0,8,33190,'b'],[0,8,32795,'b'],[5,19,33055,'g'],[5,19,32463,'g'],[20,41,32609,'o'],[20,41,32495,'o'],[38,49,33461,'b'],[38,50,32513,'b'],[50.7,65,33776,'g'],[50.7,65,33153,'g'],[66,100,33956,'a'],[66,87,33689,'a'],[84,100,33956,'b'],[84,100,33560,'b'],[97,111,33560,'g'],[97,116,33794,'a'],[17,85,32535,'G'],[85,97,33883,'O']];
const m30V=[[8,33190,32795,'a'],[5,33055,32463,'g'],[19,33055,32463,'a'],[20,33280,32424,'s'],[41,32609,32495,'o'],[38,33461,32513,'b'],[50.7,33776,33153,'g'],[65,33776,33153,'g'],[65.8,34040,32424,'s'],[65.8,33956,33720,'ot'],[87,33956,33689,'o'],[84,33956,33560,'b'],[100,33956,33560,'b'],[111,33560,33794,'g']];
const m30Dots=[[0,19,'r',33103],[20,27,'r',32535],[28,65,'u',32535],[66,77,'r',33750],[78,96,'u',33750],[97,97,'r',33750]];
const m5H=[[7.7,115.7,33958,'o'],[7.7,133.7,33688,'o'],[115.7,211.7,33958,'b'],[115.7,211.7,33561,'b'],[-1.4,6.7,33776,'g'],[194,218,33795,'g'],[195.6,232,33562,'gw'],[125.7,195.8,33884,'O']];
const m5V=[[7.7,34000,33550,'s'],[7.7,33958,33720,'ot'],[133.7,33958,33550,'a'],[115.7,33958,33561,'b'],[211.7,33958,33561,'b'],[6.7,33776,33550,'a']];
const m5Dots=[[7,75,'r'],[76,193,'u'],[194,196,'r']],m5DotP=33749;
const m1H=[[-3,464,33958,'b'],[-3,380.2,33561,'b'],[380.2,463,33795,'a'],[380.2,464,33561,'g'],[42.3,391.7,33884,'O'],[-3,381.7,33749,'U'],[381.7,393,33749,'R']];
const m1V=[[80.5,33947,33550,'o'],[380.2,33795,33561,'a']];
// value flags: [text price, first bar, colour]
const m15Flags=[[33691.50,52.7,'c'],[33795.00,89.7,'c']];
const m30Flags=[[33691.50,75.7,'c'],[33795.00,93.7,'c'],[32594.21,42.7,'o'],[32523.71,48.7,'c']];
const m5Flags=[[33777.40,38,'o'],[33691.50,60,'c'],[33795.00,169.2,'c']];
const m1Flags=[[33795.00,251,'c']];
// octave labels: [label, price]
const m15Fib=[["+1/8th",34006],["8/8th",33956],["7/8th",33910],["6/8th",33859],["5/8th",33811],["4/8th",33761],["3/8th",33713],["2/8th",33664],["1/8th",33614],["0/8th",33566],["-1/8th",33517],["-2/8th",33469],["-1/3rd",33436]];
const m30Fib=[["6/8th",33953],["5/8th",33757],["4/8th",33564],["3/8th",33368],["2/8th",33173],["1/8th",32978],["0/8th",32782],["-1/8th",32587]];
const lowFib=[["8/8th",33975],["7/8th",33928],["6/8th",33879],["5/8th",33830],["4/8th",33781],["3/8th",33732],["2/8th",33683],["1/8th",33634],["0/8th",33586]];
// currency table
const tfNames=["M1","M5","M15","M30","H1","H4","D1","W1","MN1"];
const tablePairs=["WS30","US500","US2000","NDX100","DAX30","FTSE10","HK50","JP225","XAUUSD","USOUSD"];
const tableBid=["33577","3946.9","1875.4","11573","14187","7333.5","17452","27983","1756.9","89.816"];
const tableBidM1=["33577","3946.9","1875.4","11573","14187","7333.5","17452","27983","1756.8","89.821"];
const tablePfo=["172","135","42","52","4","53","477","5","27","322"];
const tablePfoM1=["172","135","42","52","4","53","477","5","26","322"];
const tableHilo=["397","423","218","208","148","95","688","352","194","355"];
const tableUp=[0,0,1,0,0,0,1,1,1,1];
const swM15=[0,0,0,0,0,0,1,0,0,1],swM5=[0,0,0,0,0,0,0,0,0,1],swM1=[0,0,1,0,0,0,0,0,0,1];

const COL={blue:'#6f8fff',pink:'#ff69b4',cy:'#00ffff',mg:'#ff1493',rs:'#ff4500',ub:'#4169e1',vio:'#ee82ee',bg:'#141e2a',strip:'#4b0f1b',navy:'#101a55',wine:'#530f1c',panel:'#1e2733'};
const FIBC={'8/8':'#1e90ff','0/8':'#1e90ff','7/8':'#ffd700','1/8':'#ffd700','6/8':'#ff69b4','2/8':'#ff69b4','5/8':'#32cd32','3/8':'#32cd32','4/8':'#00ffff'};
const STY={o:['#ffa500',1.5,'20,11'],b:['#1e90ff',1.5,'20,11'],g:['#32cd32',1.5,'20,11'],gw:['#32cd32',2.5,'20,11'],gt:['#32cd32',1,null],a:['#777',1,'20,11'],s:['#a8a8a8',1.5,null],ot:['#ffa500',2.5,null],G:['#32cd32',4,null],O:['#ffa500',3,null],U:[COL.ub,5.5,null],R:[COL.rs,5.5,null]};

const svg=d3.select('body').append('svg').attr('width',3839).attr('height',2110).attr('viewBox','0 0 3839 2110');
svg.append('rect').attr('width',3839).attr('height',2110).attr('fill',COL.bg);
function T(g,x,y,s,o={}){const t=g.append('text').attr('x',x).attr('y',y).text(s).attr('font-size',o.size||12).attr('fill',o.fill||'#fff');
 if(o.weight)t.attr('font-weight',o.weight);if(o.italic)t.attr('font-style','italic');if(o.font)t.style('font-family',o.font);if(o.anchor)t.attr('text-anchor',o.anchor);
 if(o.w)t.attr('textLength',o.w).attr('lengthAdjust','spacingAndGlyphs');if(o.stroke){t.attr('stroke',o.stroke).attr('stroke-width',o.sw||1)}return t;}
const inRanges=(i,r)=>r.some(a=>i>=a[0]&&i<=a[1]);
const fitAxisText=(sel,k)=>sel.selectAll('text').each(function(){const t=d3.select(this);t.attr('textLength',t.text().length*k).attr('lengthAdjust','spacingAndGlyphs');});

function drawPanel(c){
 const P=svg.append('g').attr('transform',`translate(${c.ox},${c.oy})`);
 const cid='clip'+c.name;
 P.append('clipPath').attr('id',cid).append('rect').attr('x',6.5).attr('y',6.5).attr('width',1860.5).attr('height',874.5);
 const x=d3.scaleLinear().domain([0,1]).range([c.x0,c.x0+c.step]);
 const y=d3.scaleLinear().domain(c.py).range([c.ry[0],c.ry[1]]);
 const r=d3.scaleLinear().domain([0,1]).range([1031.5,884]);
 const L=d3.line().x(d=>x(d[0])).y(d=>y(d[1]));
 const M=P.append('g').attr('clip-path',`url(#${cid})`);
 M.append('rect').attr('x',1753).attr('y',6).attr('width',114).attr('height',875).attr('fill',COL.strip);
 // white current price and zigzag
 const cur=33576.67;
 M.append('line').attr('x1',6).attr('x2',1753).attr('y1',y(cur)).attr('y2',y(cur)).attr('stroke','#fff').attr('stroke-width',1.5);
 M.append('path').attr('d',L(c.zig)).attr('fill','none').attr('stroke','#fff').attr('stroke-width',3.2);
 // candles
 const bars=c.bars;
 const gC=M.append('g');
 gC.selectAll('line').data(bars).join('line').attr('x1',d=>x(d.i)).attr('x2',d=>x(d.i)).attr('y1',d=>y(d.h)).attr('y2',d=>y(d.l))
  .attr('stroke',d=>inRanges(d.i,c.pink)?COL.pink:COL.blue).attr('stroke-width',1);
 gC.selectAll('rect').data(bars).join('rect').attr('x',d=>x(d.i)-c.bw/2).attr('width',c.bw).attr('y',d=>y(d.t)).attr('height',d=>Math.max(1.5,y(d.b)-y(d.t)))
  .attr('fill',d=>inRanges(d.i,c.pink)?COL.pink:COL.blue);
 // dotted level
 c.dots.forEach(d=>{const p=d[3]||c.dotP;const idx=d3.range(d[0],d[1]+1);
  M.append('g').selectAll('rect').data(idx).join('rect').attr('x',i=>x(i)-Math.min(3,c.step/2)).attr('width',Math.min(6,c.step)).attr('y',y(p)-3).attr('height',6).attr('fill',d[2]=='r'?COL.rs:COL.ub);});
 // ribbons
 c.ribbon.forEach(s=>{[s.up,s.lo].forEach(a=>{M.append('path').attr('d',L(a.map(d=>[d[0],d[1]+c.rb]))).attr('fill','none').attr('stroke',s.c=='c'?COL.cy:COL.mg).attr('stroke-width',5).attr('stroke-linejoin','round').attr('stroke-linecap','round');});});
 // markers
 const dot=(a,col,rad)=>M.append('g').selectAll('circle').data(a).join('circle').attr('cx',d=>x(d[0])).attr('cy',d=>y(d[1])).attr('r',rad).attr('fill',col);
 dot(c.blue,'#1e90ff',10.5);dot(c.red,'#ff0000',8);dot(c.green,'#00ff00',8);dot(c.white,'#fff',10.5);
 // end markers
 dot(c.gold,'#ffd700',28);dot(c.gold,'#ff69b4',20);dot(c.gold,'#fff',11);
 dot(c.end,'#ff69b4',20);dot(c.end,'#fff',11);
 // table
 const tb=P.append('g');
 tb.append('rect').attr('x',29.5).attr('y',139).attr('width',284).attr('height',274).attr('fill',COL.panel).attr('stroke','#fff').attr('stroke-width',3);
 const tfx=[37,68,96,126,161,191,223,254,281],tfw=[17,18,25,27,14,16,15,18,25];
 tfNames.forEach((n,i)=>T(tb,tfx[i],158,n,{size:17,weight:'bold',fill:n==c.tf?'#1e90ff':'#9a9a9a',w:tfw[i]}));
 [["PAIRS",37,38],["Bid",129,21],["PFO",189,22],["HiLo",233,28],["X",284,8]].forEach(d=>T(tb,d[1],180,d[0],{size:17,weight:'bold',fill:'#8a8a8a',w:d[2]}));
 const wPair=[49,55,66,62,54,58,45,50,65,66],wBid=[50,58,53,46,46,56,47,52,53,57],wPfo=[27,30,20,21,10,22,26,11,19,32],wHi=[30,32,30,32,28,22,33,32,29,33];
 tablePairs.forEach((n,i)=>{const b=204+i*21.9;
  const pc=i?'#fff':'#1e90ff';
  T(tb,37,b,n,{size:23,weight:'bold',fill:pc,w:wPair[i],stroke:pc,sw:.5});
  const col=tableUp[i]?'#00ff00':COL.vio;
  T(tb,114,b,c.bid[i],{size:23,weight:'bold',fill:col,w:wBid[i],stroke:col,sw:.5});
  T(tb,184,b,c.pfo[i],{size:23,weight:'bold',fill:col,w:wPfo[i],stroke:col,sw:.5});
  T(tb,231,b,tableHilo[i],{size:23,weight:'bold',fill:'#b0b0b0',w:wHi[i],stroke:'#b0b0b0',sw:.5});
  tb.append('rect').attr('x',277).attr('y',b-16).attr('width',24).attr('height',12).attr('fill',c.sw[i]?'#1e90ff':COL.pink);
  tb.append('line').attr('x1',289).attr('x2',289).attr('y1',b-16).attr('y2',b-4).attr('stroke','#d85a9a').attr('stroke-width',1);
 });
 // right info boxes (the level rules run over them)
 const B=P.append('g');
 const box=(yy,h,thick)=>{B.append('rect').attr('x',1763.5).attr('y',yy).attr('width',94).attr('height',h).attr('fill',thick?'#555':COL.panel).attr('stroke','#fff').attr('stroke-width',1.2);
  if(thick)B.append('rect').attr('x',1769).attr('y',yy+6).attr('width',83).attr('height',h-12).attr('fill',COL.panel);};
 box(17,199,true);
 T(B,1790,46,"WS30",{size:24,weight:'bold',w:57});
 T(B,1778,67,"33577",{size:21,weight:'bold',fill:COL.cy,w:68});
 T(B,1786,83,"SPD:1.5",{size:14,weight:'bold',w:62});
 T(B,1848,100,c.spread,{size:18,weight:'bold',fill:COL.cy,anchor:'end'});
 T(B,1772,114,"Daily Open",{size:14,weight:'bold',fill:COL.vio,w:76});
 T(B,1786,131,"33749",{size:18,weight:'bold',fill:COL.vio,w:54});
 T(B,1775,148,"P2Op",{size:14,w:34});T(B,1819,148,"-172",{size:14,weight:'bold',fill:COL.vio,w:28});
 T(B,1780,165,"HiLo",{size:14,fill:'#b0b0b0',w:29});T(B,1824,165,"397",{size:14,weight:'bold',fill:'#b0b0b0',w:23});
 T(B,1782,182,"ADR",{size:14,w:27});T(B,1823,182,"892",{size:14,weight:'bold',fill:'#32cd32',w:24});
 T(B,1795,206,"19%",{size:25,weight:'bold',fill:COL.vio,w:46});
 box(637,194,false);
 T(B,1783,665,"WS30",{size:22,weight:'bold',w:58});
 T(B,1766,691,"OpenPips",{size:18,weight:'bold',fill:'#777',w:89});
 T(B,1812,719,"0,00",{size:20,fill:'none',stroke:'#777',sw:1,w:41});
 T(B,1768,747,"OpenPos",{size:18,weight:'bold',fill:'#777',w:85});
 T(B,1803,771,"0.00%",{size:18,fill:'none',stroke:'#777',sw:.8,w:50});
 T(B,1771,797,"Daily P/L",{size:18,weight:'bold',fill:'#777',w:79});
 T(B,1793,820,"27.19%",{size:18,fill:COL.cy,w:60});
 T(B,1786,854,"XARD",{size:19,weight:'bold',fill:'#aaa',w:55});
 T(B,1771,872,"Universe",{size:19,weight:'bold',fill:'#aaa',w:81});
 // rules
 const rules=P.append('g').attr('clip-path',`url(#${cid})`);
 const sty=(s,k)=>s.attr('stroke',STY[k][0]).attr('stroke-width',STY[k][1]).attr('stroke-dasharray',STY[k][2]);
 c.h.forEach(d=>sty(rules.append('line').attr('x1',x(d[0])).attr('x2',x(d[1])).attr('y1',y(d[2])).attr('y2',y(d[2])),d[3]));
 c.v.forEach(d=>sty(rules.append('line').attr('x1',x(d[0])).attr('x2',x(d[0])).attr('y1',y(d[1])).attr('y2',y(d[2])),d[3]));
 // XARD text
 c.entry.forEach(d=>T(rules,x(d[0]),y(d[1])+7,"XARD INDEX ENTRY",{size:20,italic:true,fill:d[2],font:'"DejaVu Sans"',w:d[3]}));
 // flags
 const FC={c:'#00ffff',o:'#ffa500'};
 c.flags.forEach(d=>{const x1=x(d[1]),yy=y(d[0]);
  rules.append('rect').attr('x',x1).attr('y',yy-16).attr('width',113).attr('height',32).attr('fill','none').attr('stroke',FC[d[2]]).attr('stroke-width',1);
  rules.append('line').attr('x1',x1-11).attr('x2',x1).attr('y1',yy).attr('y2',yy).attr('stroke',FC[d[2]]).attr('stroke-width',1);
  T(rules,x1+2,yy+10,d3.format('.2f')(d[0]),{size:29,fill:FC[d[2]],w:109});});
 // octave labels
 c.fib.forEach(d=>{const k=d[0];const col=k.startsWith('+')||k.startsWith('-1')?COL.rs:k.startsWith('-2')?'#ff0000':FIBC[k.slice(0,3)];
  T(rules,x(c.fibX),y(d[1])+9,k,{size:25,italic:true,fill:col,font:'"DejaVu Sans"',w:k.length>5?76:71});});
 // small marker at top
 rules.append('path').attr('d',d3.symbol(d3.symbolTriangle,42)()).attr('transform','translate(1586,9) rotate(180)').attr('fill','#fff');
 // title, subtitle
 T(P,c.title[0],82,c.title[2],{size:68,weight:'bold',fill:COL.vio,w:c.title[1],stroke:COL.vio,sw:1.6});
 T(P,c.title[3],103,"Carlsberg Don't Do Charts",{size:25,weight:'bold',fill:'#228b22',w:322,stroke:'#228b22',sw:.5});
 if(c.friday!=null)T(P,c.friday,21,"Friday",{size:17,italic:true,fill:'#9a9a9a',w:52});
 // header clocks
 T(P,21,18,"WS30,"+c.tf,{size:10.5,fill:'#8a8a8a',w:44});
 P.append('path').attr('d','M10,12 h7 l-3.5,5 z').attr('fill','#8a8a8a');
 [[85,155,'#8b1a1a',"HONG KONG 22:42",93,138],[242,131,'#0a66c2',"LONDON  14:42",252,113],[376,149,'#0a66c2',"NEW YORK  09:42",387,128]].forEach(d=>{
  P.append('rect').attr('x',d[0]).attr('y',9).attr('width',d[1]).attr('height',16).attr('fill',d[2]);
  T(P,d[4],22,d[3],{size:15,weight:'bold',w:d[5]});});
 // ON button, trend banner, quote
 P.append('rect').attr('x',13.5).attr('y',797.5).attr('width',38).attr('height',23).attr('fill','#1a1f24').attr('stroke','#555');
 T(P,24,814,"ON",{size:14,italic:true,fill:'#777',w:17});
 P.append('rect').attr('x',13).attr('y',828).attr('width',361).attr('height',19).attr('fill','#ff00ff');
 T(P,18,845,c.tf+"  DOWN TREND - SELLS ONLY",{size:18,weight:'bold',w:c.tf=="M5"||c.tf=="M1"?341:353});
 T(P,16,869,"The 8th Wonder of the World... COMPOUND INTEREST  'He who understands it, earns it... He who does not, pays it'.",{size:20,italic:true,fill:'#999',w:1002});
 T(P,1059,869,"'Everything, good or bad... COMPOUNDS over time'.",{size:20,italic:true,fill:'#999',w:448});
 // frame
 P.append('line').attr('x1',6.5).attr('x2',6.5).attr('y1',6).attr('y2',1032).attr('stroke','#8a8a8a').attr('stroke-width',1.5);
 P.append('line').attr('x1',0).attr('x2',1867).attr('y1',6).attr('y2',6).attr('stroke','#8a8a8a').attr('stroke-width',1.5);
 P.append('line').attr('x1',6).attr('x2',1867).attr('y1',882).attr('y2',882).attr('stroke','#a0a0a0').attr('stroke-width',2);
 // price axis
 const ax=P.append('g').attr('transform','translate(1867.5,0)').call(d3.axisRight(y).tickValues(c.ticks).tickFormat(d3.format('.2f')).tickSize(3).tickPadding(3));
 ax.selectAll('text').attr('font-size',10.5).attr('fill','#8f8f8f').style('font-family','"Liberation Sans"');
 fitAxisText(ax,4.75);
 ax.selectAll('line').attr('stroke','#8f8f8f');ax.select('.domain').attr('stroke','#b0b0b0');
 P.append('rect').attr('x',1870).attr('y',y(cur)-6).attr('width',44).attr('height',12).attr('fill','#c4c4c4');
 T(P,1872,y(cur)+4,d3.format('.2f')(cur),{size:10.5,fill:'#222',w:40});
 // RSI pane
 const R=P.append('g');
 const rx0=6.5;
 c.zones.forEach(z=>R.append('rect').attr('x',Math.max(rx0,x(z[0]))).attr('y',884).attr('width',x(z[1])-Math.max(rx0,x(z[0]))).attr('height',147.5).attr('fill',z[2]=='b'?COL.navy:COL.wine));
 const gridEnd=Math.ceil(c.zones[c.zones.length-1][1]);
 R.append('g').selectAll('line').data(d3.range(0,gridEnd)).join('line').attr('x1',i=>x(i+.5)).attr('x2',i=>x(i+.5)).attr('y1',884).attr('y2',1031.5).attr('stroke','#000').attr('stroke-opacity',c.step>8?.45:.3).attr('stroke-width',1);
 c.rCyan.forEach(i=>R.append('line').attr('x1',x(i)).attr('x2',x(i)).attr('y1',884).attr('y2',1031.5).attr('stroke',COL.cy).attr('stroke-width',2.5));
 c.rOrange.forEach(i=>R.append('line').attr('x1',x(i)).attr('x2',x(i)).attr('y1',884).attr('y2',1031.5).attr('stroke',COL.rs).attr('stroke-width',2.5));
 T(R,c.rsiT[0],933,c.rsiT[2],{size:60,weight:'bold',fill:COL.vio,w:c.rsiT[1],stroke:COL.vio,sw:1.6});
 [.7,.3].forEach(v=>R.append('line').attr('x1',7).attr('x2',1867).attr('y1',r(v)).attr('y2',r(v)).attr('stroke','#c8c8c8').attr('stroke-width',1.3).attr('stroke-dasharray','18,8'));
 const LR=d3.line().x(d=>x(d[0])).y(d=>r(d[1])).curve(c.tf=="M1"?d3.curveStepAfter:d3.curveLinear);
 R.append('path').attr('d',LR(c.sig)).attr('fill','none').attr('stroke','#fff').attr('stroke-width',1).attr('stroke-dasharray',c.tf=="M1"?'3,1.5':'1.5,2');
 R.append('path').attr('d',LR(c.rsi)).attr('fill','none').attr('stroke','#ffa500').attr('stroke-width',c.tf=="M1"?2:2.4).attr('stroke-linejoin','round');
 const ra=R.append('g').attr('transform','translate(1867.5,0)').call(d3.axisRight(r).tickValues([1,.7,.3,0]).tickFormat(v=>v==1||v==0?'0':String(v)).tickSize(3).tickPadding(3));
 ra.selectAll('text').attr('font-size',10.5).attr('fill','#8f8f8f').style('font-family','"Liberation Sans"');ra.selectAll('line').attr('stroke','#8f8f8f');ra.select('.domain').attr('stroke','#b0b0b0');
 // time axis
 const xa=d3.scaleLinear().domain([0,1]).range([7,7+c.step]);
 const tv=c.time.map((_,i)=>i*c.tickEvery);
 const ta=P.append('g').attr('transform','translate(0,1032)').call(d3.axisBottom(xa).tickValues(tv).tickFormat((d,i)=>c.time[i]).tickSize(3).tickPadding(3));
 ta.selectAll('text').attr('font-size',10.5).attr('fill','#8f8f8f').attr('text-anchor','start').style('font-family','"Liberation Sans"');
 fitAxisText(ta,4.5);
 ta.selectAll('line').attr('stroke','#999');
 ta.select('.domain').attr('d','M6,0H1867').attr('stroke','#b0b0b0');
}
const chain=(cl,wu,wd,base,o0)=>cl.map((v,i)=>{const o=base+(i?cl[i-1]:o0),e=base+v,t=Math.max(o,e),b=Math.min(o,e);return{i,t,b,h:t+wu[i],l:b-wd[i]};});
const m15Bars=chain(m15Close,m15WickUp,m15WickDn,32000,m15Open0);
const m5Bars=chain(m5Close,m5WickUp,m5WickDn,33500,m5Open0);
const m1Bars=chain(m1Close,m1Wick,m1Wick,33500,m1Open0);
const m30Bars=m30Top.map((v,i)=>({i,t:32000+v,b:32000+m30Bot[i],h:32000+m30High[i],l:32000+m30Low[i]}));
const lowPy=[33971.8,33551.95],lowRy=[19.3,877.7];
drawPanel({name:'a',tf:'M15',ox:0,oy:0,x0:7.4,step:16,bw:10,py:[34008.1,32527.4],ry:[20,877],bars:m15Bars,pink:m15Pink,zig:m15Zig,dots:m15Dots,dotP:m15DotP,ribbon:m15Ribbon,rb:0,
 blue:m15Blue,red:m15Red,green:m15Green,white:m15White,gold:m15Gold,end:m15End,h:m15H,v:m15V,flags:m15Flags,fib:m15Fib,fibX:100,entry:[[76.5,33855,'#ffa500',165]],
 bid:tableBid,pfo:tablePfo,sw:swM15,title:[280,377,'WS30 M15',331],friday:565,spread:'2:7',ticks:ticksM15,zones:m15Zones,rCyan:m15Cyan,rOrange:m15Orange,rsi:m15Rsi,sig:m15Sig,rsiT:[1631,229,'RSI 9.6'],time:timeM15,tickEvery:4});
drawPanel({name:'b',tf:'M30',ox:1918,oy:0,x0:7.4,step:16,bw:10,py:[34010.5,32430.1],ry:[19.6,877],bars:m30Bars,pink:m30Pink,zig:m30Zig,dots:m30Dots,ribbon:m30Ribbon,rb:0,
 blue:m30Blue,red:m30Red,green:m30Green,white:m30White,gold:m30Gold,end:m30End,h:m30H,v:m30V,flags:m30Flags,fib:m30Fib,fibX:100.1,entry:[[90.2,33870,'#ffa500',165],[20,32520,'#32cd32',192]],
 bid:tableBid,pfo:tablePfo,sw:swM15,title:[280,377,'WS30 M30',332],friday:1060,spread:'17:7',ticks:ticksM30,zones:m30Zones,rCyan:m30Cyan,rOrange:m30Orange,rsi:m30Rsi,sig:m30Sig,rsiT:[1591,268,'RSI 15.7'],time:timeM30,tickEvery:4});
drawPanel({name:'c',tf:'M5',ox:0,oy:1053,x0:9.4,step:8,bw:5,py:lowPy,ry:lowRy,bars:m5Bars,pink:m5Pink,zig:m5Zig,dots:m5Dots,dotP:m5DotP,ribbon:m5Ribbon,rb:33500,
 blue:m5Blue,red:m5Red,green:m5Green,white:m5White,gold:m5Gold,end:m5End,h:m5H,v:m5V,flags:m5Flags,fib:lowFib,fibX:202,entry:[[127.4,33879,'#ffa500',167]],
 bid:tableBid,pfo:tablePfo,sw:swM5,title:[325,332,'WS30 M5',331],friday:68,spread:'2:7',ticks:ticksLow,zones:m5Zones,rCyan:m5Cyan,rOrange:m5Orange,rsi:m5Rsi,sig:m5Sig,rsiT:[1628,232,'RSI 2.5'],time:timeM5,tickEvery:8});
drawPanel({name:'d',tf:'M1',ox:1918,oy:1053,x0:10,step:4,bw:3,py:lowPy,ry:lowRy,bars:m1Bars,pink:m1Pink,zig:m1Zig,dots:[],ribbon:m1Ribbon,rb:33500,
 blue:m1Blue,red:m1Red,green:m1Green,white:m1White,gold:m1Gold,end:m1End,h:m1H,v:m1V,flags:m1Flags,fib:lowFib,fibX:405,entry:[[41.5,33879,'#ffa500',162]],
 bid:tableBidM1,pfo:tablePfoM1,sw:swM1,title:[325,326,'WS30 M1',331],friday:null,spread:'0:7',ticks:ticksLow,zones:m1Zones,rCyan:m1Cyan,rOrange:m1Orange,rsi:m1Rsi,sig:m1Sig,rsiT:[1632,227,'RSI 2.5'],time:timeM1,tickEvery:16});
// window dividers
svg.append('rect').attr('x',1919).attr('y',0).attr('width',2.5).attr('height',2110).attr('fill','#d8d8d8');
svg.append('rect').attr('x',0).attr('y',1053).attr('width',3839).attr('height',3).attr('fill','#d8d8d8');
svg.append('rect').attr('x',0).attr('y',2106).attr('width',3839).attr('height',4).attr('fill','#d8d8d8');
svg.append('rect').attr('x',0).attr('y',0).attr('width',3839).attr('height',2).attr('fill','#555');
</script></body></html>
